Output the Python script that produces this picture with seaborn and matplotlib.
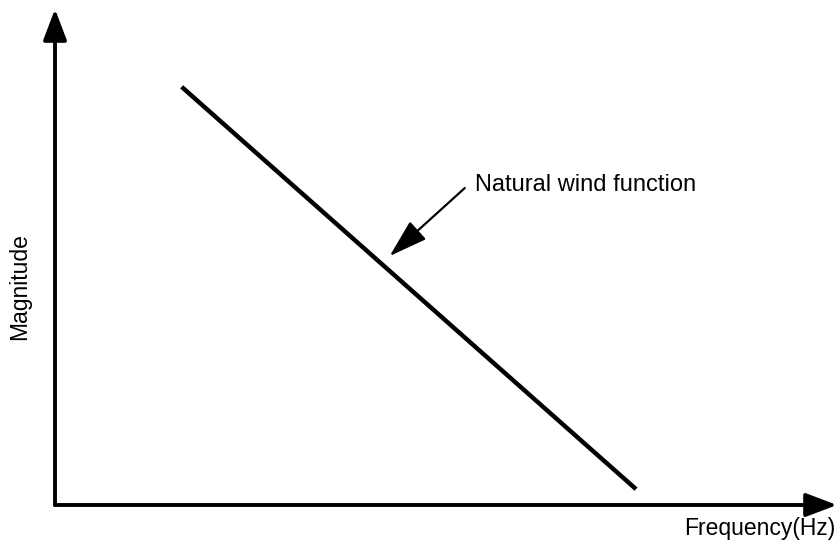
import numpy as np
import pandas as pd
import matplotlib.pyplot as plt
import seaborn as sns

# line endpoints, in fractions of the axis lengths
frequency = [0.162, 0.743]
magnitude = [0.843, 0.032]

# where the label arrow points to / starts from
arrow_tip = (0.428, 0.502)
arrow_tail = (0.524, 0.639)
label_text = "Natural wind function"

sns.set_style("white")
plt.rcParams['font.family'] = ['Liberation Sans', 'DejaVu Sans']
plt.rcParams['text.color'] = 'black'

fig = plt.figure(figsize=(8.37, 5.47), dpi=100)
ax = fig.add_axes([55 / 837, 42 / 547, 1 - 55 / 837, 496 / 547])

df = pd.DataFrame({'Frequency': frequency, 'Magnitude': magnitude})
sns.lineplot(data=df, x='Frequency', y='Magnitude', color='black', lw=3.2,
             solid_capstyle='butt', ax=ax)

ax.set_xlim(0, 1)
ax.set_ylim(0, 1)
ax.set_xticks([])
ax.set_yticks([])
ax.set_xlabel('')
ax.set_ylabel('')
for s in ax.spines.values():
    s.set_visible(False)

# axes drawn as arrows
axis_arrow = dict(arrowstyle='-|>,head_length=0.95,head_width=0.36', lw=2.8,
                  color='black', mutation_scale=20, shrinkA=0, shrinkB=0)
ax.annotate('', xy=(1, 0), xytext=(0, 0), xycoords='axes fraction',
            arrowprops=axis_arrow, annotation_clip=False)
ax.annotate('', xy=(0, 1), xytext=(0, 0), xycoords='axes fraction',
            arrowprops=axis_arrow, annotation_clip=False)

# label with arrow
ax.annotate('', xy=arrow_tip, xytext=arrow_tail,
            arrowprops=dict(arrowstyle='-|>,head_length=1.6,head_width=0.5',
                            lw=1.6, color='black', mutation_scale=15,
                            shrinkA=0, shrinkB=0))
ax.text(0.537, 0.645, label_text, fontsize=17, color='black',
        ha='left', va='center')

fig.text(20 / 837, 1 - 287 / 547, 'Magnitude', rotation=90, fontsize=16.5,
         color='black', ha='center', va='center')
fig.text(835 / 837, 1 - 528 / 547, 'Frequency(Hz)', fontsize=16.5,
         color='black', ha='right', va='center')

fig.savefig('out.png', dpi=100)
